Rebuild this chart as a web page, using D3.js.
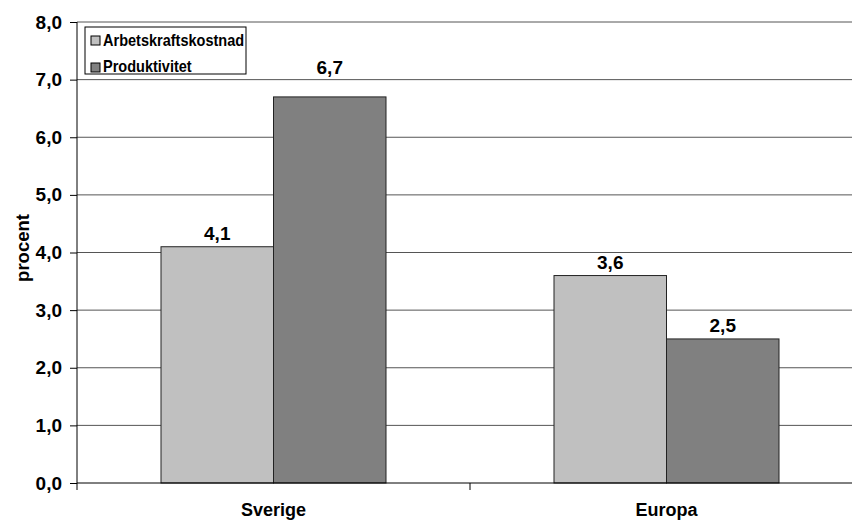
<!DOCTYPE html>
<html>
<head>
<meta charset="utf-8">
<script src="https://cdn.jsdelivr.net/npm/d3@7"></script>
<style>
  body { margin: 0; background: #fff; }
  svg { font-family: 'Liberation Sans', Arial, sans-serif; }
</style>
</head>
<body>
<script>
const categories = ['Sverige', 'Europa']
const series = ['Arbetskraftskostnad', 'Produktivitet']
const arbetskraftskostnad = [4.1, 3.6]
const produktivitet = [6.7, 2.5]
const yTicks = [0, 1, 2, 3, 4, 5, 6, 7, 8]

const colors = ['#c0c0c0', '#808080']
const fmt = v => d3.format('.1f')(v).replace('.', ',')

const width = 852
const height = 525
const plot = { left: 77, right: 863, top: 22, bottom: 483 }

const svg = d3.select('body').append('svg')
    .attr('width', width)
    .attr('height', height)

const x = d3.scaleBand().domain(categories).range([plot.left, plot.right])
const xInner = d3.scaleBand().domain(series).range([0, 225])
const y = d3.scaleLinear().domain([0, 8]).range([plot.bottom, plot.top])

// gridlines
svg.append('g')
    .selectAll('line')
    .data(yTicks.slice(1))
    .enter().append('line')
    .attr('x1', plot.left).attr('x2', plot.right)
    .attr('y1', d => y(d)).attr('y2', d => y(d))
    .attr('stroke', '#555')
    .attr('stroke-width', 1)

const rows = categories.map((c, i) => ({ cat: c, values: [arbetskraftskostnad[i], produktivitet[i]] }))

const groups = svg.selectAll('g.cat')
    .data(rows)
    .enter().append('g')
    .attr('class', 'cat')
    .attr('transform', d => `translate(${x(d.cat) + (x.bandwidth() - 225) / 2},0)`)

groups.selectAll('rect')
    .data(d => d.values.map((v, j) => ({ cat: d.cat, s: series[j], v, j })))
    .enter().append('rect')
    .attr('x', d => xInner(d.s))
    .attr('y', d => y(d.v))
    .attr('width', xInner.bandwidth())
    .attr('height', d => y(0) - y(d.v))
    .attr('fill', d => colors[d.j])
    .attr('stroke', '#222')
    .attr('stroke-width', 1)

// excel lifted this one label clear of the gridline
const labelLift = { 'Sverige|Produktivitet': 16 }

groups.selectAll('text')
    .data(d => d.values.map((v, j) => ({ cat: d.cat, s: series[j], v, j })))
    .enter().append('text')
    .attr('x', d => xInner(d.s) + xInner.bandwidth() / 2)
    .attr('y', d => y(d.v) - 7 - (labelLift[d.cat + '|' + d.s] || 0))
    .attr('text-anchor', 'middle')
    .style('font-size', '19px')
    .style('font-weight', 'bold')
    .text(d => fmt(d.v))

// y axis
const yAxis = svg.append('g')
    .attr('transform', `translate(${plot.left},0)`)
    .call(d3.axisLeft(y).tickValues(yTicks).tickSize(7).tickPadding(8).tickFormat(fmt))
yAxis.selectAll('text')
    .style('font-size', '19px')
    .style('font-weight', 'bold')
    .style('font-family', 'Liberation Sans, Arial, sans-serif')
    .attr('fill', '#000')
yAxis.select('.domain').attr('stroke', '#000').attr('d', `M0,${plot.top}V${plot.bottom + 7}`)
yAxis.selectAll('.tick line').attr('stroke', '#000')

// x axis
const xAxis = svg.append('g')
    .attr('transform', `translate(0,${plot.bottom})`)
xAxis.append('line')
    .attr('x1', plot.left).attr('x2', plot.right)
    .attr('stroke', '#000')
xAxis.selectAll('line.tk')
    .data([x('Europa')])
    .enter().append('line')
    .attr('class', 'tk')
    .attr('x1', d => d).attr('x2', d => d)
    .attr('y1', 0).attr('y2', 7)
    .attr('stroke', '#000')
xAxis.selectAll('text')
    .data(categories)
    .enter().append('text')
    .attr('x', d => x(d) + x.bandwidth() / 2)
    .attr('y', 33)
    .attr('text-anchor', 'middle')
    .style('font-size', '18px')
    .style('font-weight', 'bold')
    .text(d => d)

// y title
svg.append('text')
    .attr('transform', `translate(29,248) rotate(-90)`)
    .attr('text-anchor', 'middle')
    .style('font-size', '18.5px')
    .style('font-weight', 'bold')
    .text('procent')

// legend
const lg = svg.append('g').attr('transform', 'translate(85,27)')
lg.append('rect')
    .attr('width', 161).attr('height', 47)
    .attr('fill', '#fff').attr('stroke', '#000')
series.forEach((s, i) => {
    lg.append('rect')
        .attr('x', 6).attr('y', 9 + i * 27)
        .attr('width', 9).attr('height', 9)
        .attr('fill', colors[i]).attr('stroke', '#000')
    lg.append('text')
        .attr('transform', `translate(18,${19 + i * 26}) scale(0.88,1)`)
        .style('font-size', '16.5px')
        .style('font-weight', 'bold')
        .text(s)
})
</script>
</body>
</html>
